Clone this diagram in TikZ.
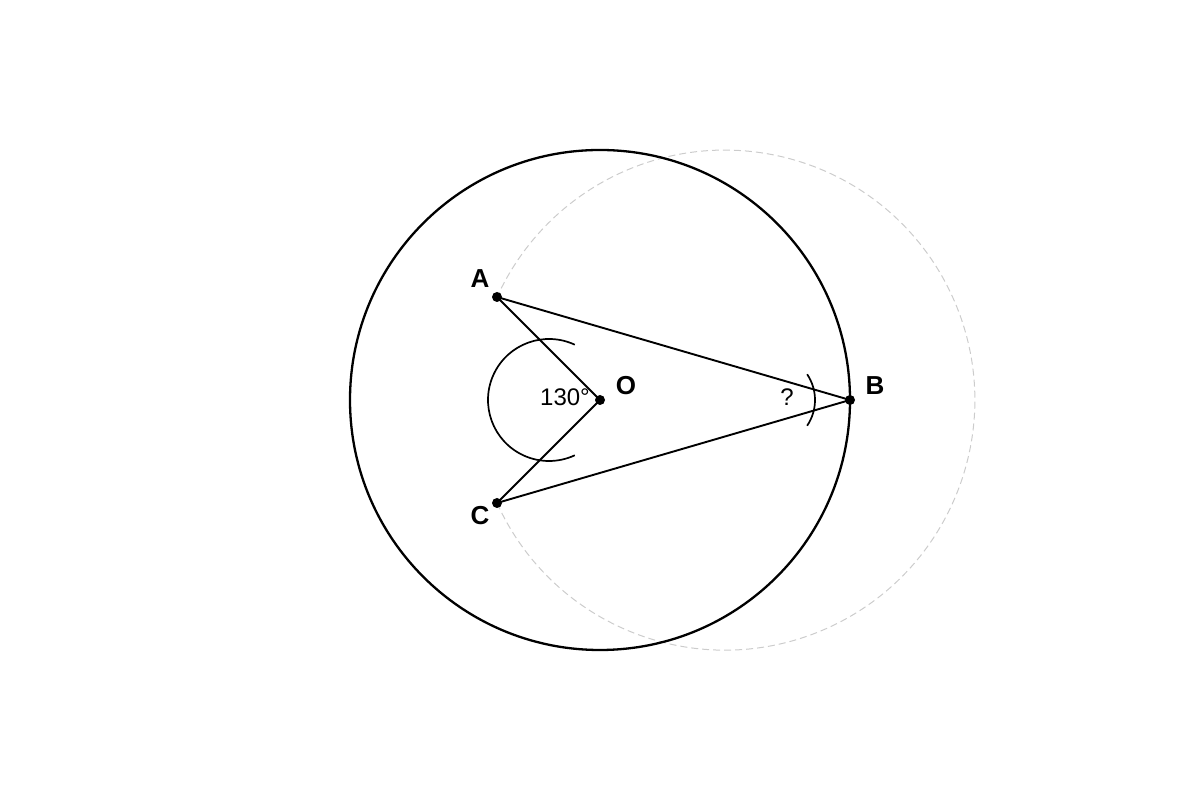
\documentclass[tikz,border=0pt]{standalone}
\usepackage{fontspec}
\setmainfont{Liberation Sans}
\begin{document}
\begin{tikzpicture}[x=1pt,y=1pt,
  pt/.style={circle,fill=black,inner sep=0pt,minimum size=10pt},
  lbl/.style={font=\fontsize{26}{30}\selectfont\bfseries},
  angl/.style={font=\fontsize{24}{28}\selectfont},
  seg/.style={line width=1.9pt},
  arcs/.style={line width=1.7pt}]
\useasboundingbox (0,0) rectangle (1200,800);
\coordinate (Op) at (600,400);
\coordinate (Ap) at (497,503);
\coordinate (Bp) at (850,400);
\coordinate (Cp) at (497,297);
\draw[gray!40,dash pattern=on 7pt off 4pt,line width=1pt] (Cp) arc[start angle=204.3,end angle=515.7,radius=250];
\draw[line width=2.3pt] (Op) circle (250);
\draw[seg] (Ap) -- (Op) -- (Cp);
\draw[seg] (Ap) -- (Bp) -- (Cp);
\draw[arcs] (549,400) ++(65:61) arc[start angle=65,end angle=295,radius=61];
\draw[arcs] (769,400) ++(-34:46) arc[start angle=-34,end angle=34,radius=46];
\node[pt] (O) at (Op) {};
\node[pt] (A) at (Ap) {};
\node[pt] (B) at (Bp) {};
\node[pt] (C) at (Cp) {};
\node[lbl] (la) at (480,521) {A};
\node[lbl] (lo) at (626,414) {O};
\node[lbl] (lb) at (875,414) {B};
\node[lbl] (lc) at (480,284) {C};
\node[angl] (ang) at (565,403) {130°};
\node[angl] (q) at (787,403) {?};
\end{tikzpicture}
\end{document}
